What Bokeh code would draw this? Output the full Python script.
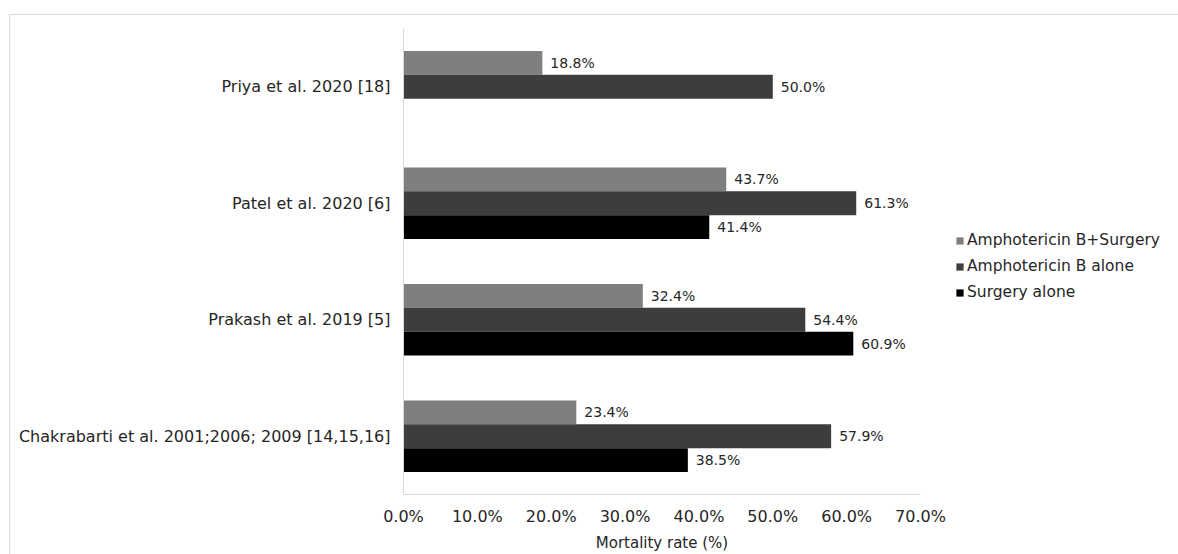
from bokeh.plotting import figure
from bokeh.layouts import row
from bokeh.models import ColumnDataSource, FactorRange, Range1d, NumeralTickFormatter, FixedTicker, Legend, LegendItem
from bokeh.transform import dodge
from bokeh.core.properties import value
from bokeh.embed import file_html
from bokeh.resources import INLINE

studies = ["Priya et al. 2020 [18]", "Patel et al. 2020 [6]", "Prakash et al. 2019 [5]",
           "Chakrabarti et al. 2001;2006; 2009 [14,15,16]"]
series_names = ["Amphotericin B+Surgery", "Amphotericin B alone", "Surgery alone"]
ampho_surgery = [18.8, 43.7, 32.4, 23.4]
ampho_alone = [50.0, 61.3, 54.4, 57.9]
surgery_alone = [None, 41.4, 60.9, 38.5]
x_ticks = [0, 10, 20, 30, 40, 50, 60, 70]

colors = ["#7f7f7f", "#3d3d3d", "#000000"]
offsets = [0.205, 0.0, -0.205]
FONT = "DejaVu Sans"
H = 539

p = figure(width=945, height=H, output_backend="svg", toolbar_location=None,
           y_range=FactorRange(factors=studies[::-1]), x_range=Range1d(0, 0.7),
           min_border_left=393, min_border_right=35, min_border_top=13, min_border_bottom=0)
p.outline_line_color = None
p.xgrid.grid_line_color = None
p.ygrid.grid_line_color = None

p2 = figure(width=223, height=H, output_backend="svg", toolbar_location=None,
            x_range=Range1d(0, 1), y_range=Range1d(0, 1), x_axis_type=None, y_axis_type=None,
            min_border=0)
p2.outline_line_color = None
p2.grid.visible = False

items = []
for name, vals, col, off in zip(series_names, [ampho_surgery, ampho_alone, surgery_alone], colors, offsets):
    st = [s for s, v in zip(studies, vals) if v is not None]
    vv = [v / 100 for v in vals if v is not None]
    lab = [f"{v:.1f}%" for v in vals if v is not None]
    src = ColumnDataSource(dict(study=st, val=vv, label=lab))
    p.hbar(y=dodge("study", off, range=p.y_range), left=0, right="val", height=0.205,
           source=src, fill_color=col, line_color=None)
    p.text(x="val", y=dodge("study", off, range=p.y_range), text="label", source=src,
           x_offset=8, text_baseline="middle", text_align="left", text_font=value(FONT),
           text_font_size="14px", text_color="#262626")
    # legend swatch renderer, kept outside the visible range of the legend panel
    r2 = p2.hbar(y=[5], left=[5], right=[6], height=0.1, fill_color=col, line_color=None)
    items.append(LegendItem(label=name, renderers=[r2]))

p.xaxis.ticker = FixedTicker(ticks=[t / 100 for t in x_ticks])
p.xaxis.formatter = NumeralTickFormatter(format="0.0%")
p.xaxis.axis_label = "Mortality rate (%)"
for ax in [p.xaxis[0], p.yaxis[0]]:
    ax.axis_line_color = "#d9d9d9"
    ax.major_tick_line_color = None
    ax.minor_tick_line_color = None
    ax.major_tick_out = 0
    ax.major_tick_in = 0
    ax.minor_tick_out = 0
    ax.minor_tick_in = 0
    ax.major_label_text_font = FONT
    ax.major_label_text_color = "#262626"
p.xaxis.major_label_text_font_size = "16px"
p.yaxis.major_label_text_font_size = "16px"
p.xaxis.major_label_standoff = 12
p.xaxis.axis_label_text_font = FONT
p.xaxis.axis_label_text_font_size = "15px"
p.xaxis.axis_label_text_font_style = "normal"
p.xaxis.axis_label_text_color = "#262626"
p.xaxis.axis_label_standoff = 5
p.yaxis.major_label_standoff = 13

legend = Legend(items=items, location=(0, 192), margin=0, padding=0,
                glyph_width=9, glyph_height=9, label_standoff=3, spacing=6, label_height=20,
                label_text_font=FONT, label_text_font_size="15.5px", label_text_color="#262626",
                border_line_color=None, background_fill_alpha=0)
p2.add_layout(legend)

layout = row(p, p2, styles={"border-top": "1px solid #d9d9d9", "border-left": "1px solid #d9d9d9",
                            "margin-top": "14px", "margin-left": "9px"})

open("out.html", "w").write(file_html(layout, INLINE))
